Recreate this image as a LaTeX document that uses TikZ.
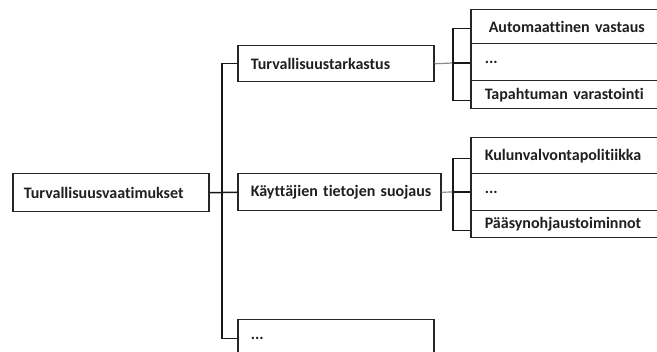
\documentclass[tikz,border=0pt]{standalone}
\usepackage{fontspec}
\setmainfont[Ligatures={NoCommon,NoContextual}]{Carlito}
\begin{document}
\begin{tikzpicture}[x=1pt,y=-1pt,
  every node/.style={font=\fontsize{16pt}{19pt}\selectfont\bfseries, text=black!88},
  box/.style={draw=black!85, line width=1.5pt, anchor=north west, align=left,
    inner xsep=0pt, inner ysep=0pt},
  link/.style={draw=black!90, line width=1.5pt},
  thin link/.style={draw=black!45, line width=1.2pt}]
  \useasboundingbox (0,0) rectangle (657,352);
  \clip (0,0) rectangle (657,352);

  % top-level requirement
  \node[box, minimum width=196pt, minimum height=38pt, text width=196pt] (root) at (12,173)
    {\hspace*{11pt}Turvallisuusvaatimukset};

  % second level
  \node[box, minimum width=196pt, minimum height=36pt, text width=196pt] (t1) at (237,45)
    {\hspace*{13pt}Turvallisuustarkastus};
  \node[box, minimum width=203pt, minimum height=37pt, text width=203pt] (t2) at (237,173)
    {\hspace*{13pt}Käyttäjien tietojen suojaus};
  \node[box, minimum width=196pt, minimum height=36pt, text width=196pt] (t3) at (237,319)
    {\raisebox{-3pt}{\hspace*{13pt}...}};

  % third level, first group (open to the right)
  \node[box, minimum width=220pt, minimum height=34pt, text width=220pt] (g1a) at (470,9)
    {\hspace*{18pt}Automaattinen vastaus};
  \node[box, minimum width=220pt, minimum height=37pt, text width=220pt] (g1b) at (470,43)
    {\hspace*{14pt}...};
  \node[box, minimum width=220pt, minimum height=28pt, text width=220pt] (g1c) at (470,80)
    {\hspace*{14pt}Tapahtuman varastointi};

  % third level, second group
  \node[box, minimum width=220pt, minimum height=36pt, text width=220pt] (g2a) at (470,137)
    {\hspace*{14pt}Kulunvalvontapolitiikka};
  \node[box, minimum width=220pt, minimum height=37pt, text width=220pt] (g2b) at (470,173)
    {\hspace*{14pt}...};
  \node[box, minimum width=220pt, minimum height=27pt, text width=220pt] (g2c) at (470,210)
    {\hspace*{14pt}Pääsynohjaustoiminnot};

  % trunk from the root to the second level
  \draw[link] (root.east) -- (t2.west);
  \draw[link] (t1.west) -- ++(-15,0) |- ([yshift=-1pt]t3.west);

  % brackets feeding the third level
  \coordinate (j1) at (453,63);
  \coordinate (j2) at (453,192);
  \draw[thin link] (t1.east) -- (j1);
  \draw[thin link] (t2.east) -- (j2);
  \draw[link] ([yshift=-2pt]g1a.west) -- ++(-17,0) |- ([yshift=-6pt]g1c.west);
  \draw[link] (j1) -- (g1b.west |- j1);
  \draw[link] ([yshift=-3pt]g2a.west) -- ++(-17,0) |- ([yshift=-6.5pt]g2c.west);
  \draw[link] (j2) -- (g2b.west |- j2);
\end{tikzpicture}
\end{document}
